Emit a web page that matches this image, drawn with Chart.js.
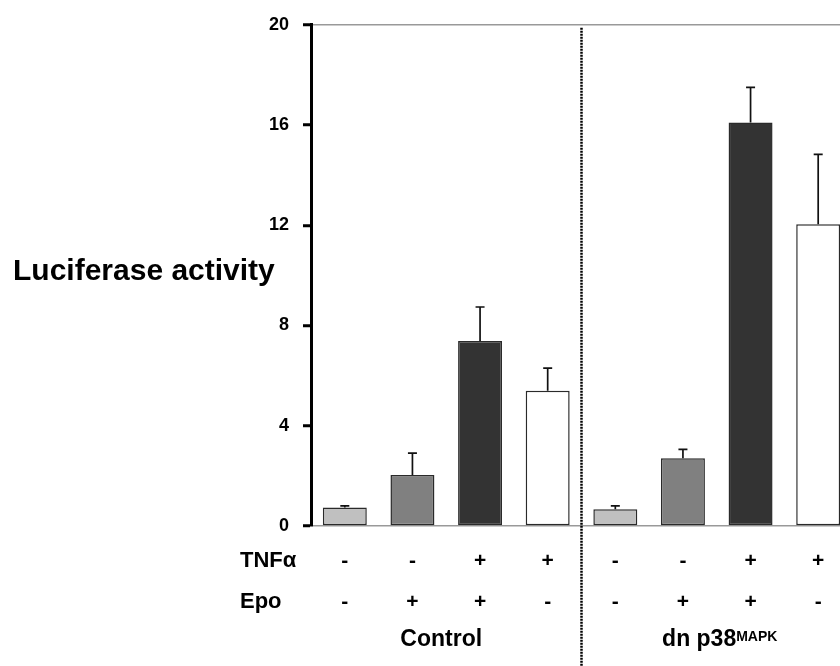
<!DOCTYPE html>
<html>
<head>
<meta charset="utf-8">
<script src="https://cdn.jsdelivr.net/npm/chart.js@4/dist/chart.umd.min.js"></script>
<style>
    html, body { margin: 0; padding: 0; background: #fff; overflow: hidden; }
    #wrap { width: 840px; height: 666px; overflow: hidden; }
    canvas { display: block; }
</style>
</head>
<body>
<div id="wrap"><canvas id="lucChart" width="860" height="666"></canvas></div>
<script>
// Data
const tnfRow = ['-', '-', '+', '+', '-', '-', '+', '+'];
const epoRow = ['-', '+', '+', '-', '-', '+', '+', '-'];
const activity = [0.74, 2.04, 7.38, 5.40, 0.67, 2.70, 16.1, 12.04];
const errorUp = [0.06, 0.87, 1.36, 0.90, 0.13, 0.36, 1.40, 2.79];
const yTicks = [0, 4, 8, 12, 16, 20];
const groups = ['Control', 'dn p38'];

const barFill = ['#c0c0c0', '#808080', '#333333', '#ffffff', '#c0c0c0', '#808080', '#333333', '#ffffff'];
const FONT = '"Liberation Sans", Arial, sans-serif';

// Error bars (upper only) with small caps
const errorBarPlugin = {
    id: 'errorBars',
    afterDatasetsDraw(chart) {
        const ctx = chart.ctx;
        const y = chart.scales.y;
        const meta = chart.getDatasetMeta(0);
        ctx.save();
        ctx.strokeStyle = '#111';
        ctx.lineWidth = 1.7;
        meta.data.forEach((bar, i) => {
            const top = y.getPixelForValue(activity[i] + errorUp[i]);
            const base = y.getPixelForValue(activity[i]);
            ctx.beginPath();
            ctx.moveTo(bar.x, base);
            ctx.lineTo(bar.x, top);
            ctx.moveTo(bar.x - 4.5, top);
            ctx.lineTo(bar.x + 4.5, top);
            ctx.stroke();
        });
        ctx.restore();
    }
};

// Axis title, row headers, group labels, dotted divider
const annotationPlugin = {
    id: 'annotations',
    afterDraw(chart) {
        const ctx = chart.ctx;
        const x = chart.scales.x;
        const area = chart.chartArea;
        ctx.save();
        ctx.fillStyle = '#000';

        ctx.font = 'bold 30px ' + FONT;
        ctx.textAlign = 'left';
        ctx.textBaseline = 'middle';
        ctx.fillText('Luciferase activity', 13, 272);

        ctx.font = 'bold 22px ' + FONT;
        ctx.fillText('TNFα', 240, 561);
        ctx.fillText('Epo', 240, 602);

        // group labels
        ctx.font = 'bold 23px ' + FONT;
        ctx.textAlign = 'center';
        const c1 = (x.getPixelForValue(1) + x.getPixelForValue(2)) / 2;
        ctx.fillText(groups[0], c1 - 5, 640);

        const c2 = (x.getPixelForValue(5) + x.getPixelForValue(6)) / 2;
        ctx.textAlign = 'left';
        const mainW = ctx.measureText(groups[1]).width;
        ctx.font = 'bold 14px ' + FONT;
        const supW = ctx.measureText('MAPK').width;
        const startX = c2 - (mainW + supW) / 2 + 3;
        ctx.font = 'bold 23px ' + FONT;
        ctx.fillText(groups[1], startX, 640);
        ctx.font = 'bold 14px ' + FONT;
        ctx.fillText('MAPK', startX + mainW, 637);

        // dotted divider between groups
        const xd = (x.getPixelForValue(3) + x.getPixelForValue(4)) / 2;
        ctx.strokeStyle = '#000';
        ctx.lineWidth = 2.5;
        ctx.setLineDash([2, 1]);
        ctx.beginPath();
        ctx.moveTo(xd, area.top + 3);
        ctx.lineTo(xd, 666);
        ctx.stroke();
        ctx.restore();
    }
};

new Chart(document.getElementById('lucChart'), {
    type: 'bar',
    data: {
        labels: tnfRow.map((t, i) => [t, epoRow[i]]),
        datasets: [{
            data: activity,
            backgroundColor: barFill,
            borderColor: '#2a2a2a',
            borderWidth: 1.5,
            borderSkipped: false,
            barPercentage: 0.65,
            categoryPercentage: 1.0
        }]
    },
    options: {
        responsive: false,
        animation: false,
        layout: { padding: { top: 22, right: 8, left: 0, bottom: 0 } },
        plugins: {
            legend: { display: false },
            tooltip: { enabled: false }
        },
        scales: {
            x: {
                grid: { display: false, drawTicks: false },
                border: { display: false },
                afterFit: (scale) => { scale.height = 140; },
                ticks: {
                    color: '#000',
                    padding: 14.5,
                    maxRotation: 0,
                    autoSkip: false,
                    font: { family: FONT, size: 21, weight: 'bold', lineHeight: 41 / 21 }
                }
            },
            y: {
                min: 0,
                max: 20,
                afterFit: (scale) => { scale.width = 311; },
                afterBuildTicks: (scale) => { scale.ticks = yTicks.map(v => ({ value: v })); },
                border: { display: true, color: '#000', width: 3 },
                grid: {
                    color: (c) => (c.tick && (c.tick.value === 0 || c.tick.value === 20)) ? '#999' : 'rgba(0,0,0,0)',
                    lineWidth: 1.5,
                    tickColor: '#000',
                    tickWidth: 3,
                    tickLength: 8
                },
                ticks: {
                    color: '#000',
                    padding: 14,
                    font: { family: FONT, size: 18, weight: 'bold' }
                }
            }
        }
    },
    plugins: [errorBarPlugin, annotationPlugin]
});
</script>
</body>
</html>
